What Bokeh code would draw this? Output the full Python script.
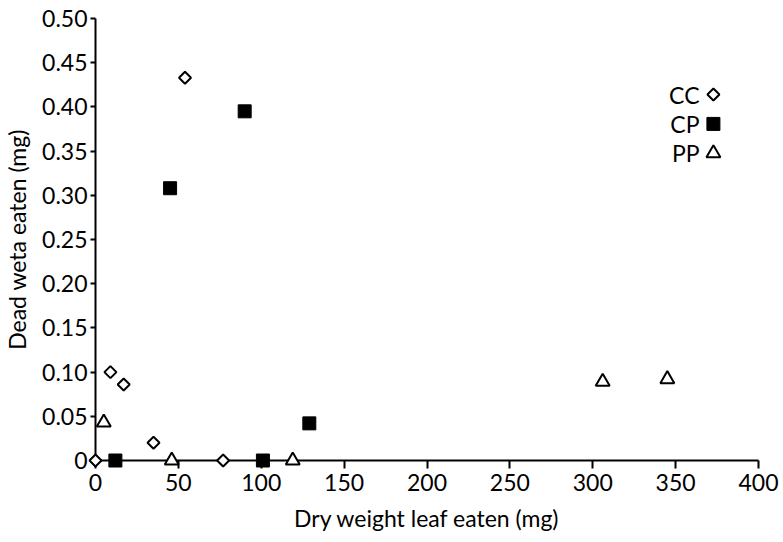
import math
from bokeh.plotting import figure
from bokeh.models import Range1d, FixedTicker, Label
from bokeh.embed import file_html
from bokeh.resources import INLINE

# ---- data ----
cc_x = [0, 9, 17, 35, 54, 77]
cc_y = [0.0, 0.100, 0.086, 0.020, 0.433, 0.0]
cp_x = [12, 45, 90, 101, 129]
cp_y = [0.0, 0.308, 0.395, 0.0, 0.042]
pp_x = [5, 46, 119, 306, 345]
pp_y = [0.043, 0.0, 0.0, 0.089, 0.092]

series_names = ["CC", "CP", "PP"]
x_ticks = [0, 50, 100, 150, 200, 250, 300, 350, 400]
y_ticks = [0.0, 0.05, 0.10, 0.15, 0.20, 0.25, 0.30, 0.35, 0.40, 0.45, 0.50]
y_tick_labels = ["0", "0.05", "0.10", "0.15", "0.20", "0.25", "0.30",
                 "0.35", "0.40", "0.45", "0.50"]
x_title = "Dry weight leaf eaten (mg)"
y_title = "Dead weta eaten (mg)"

FONT = "Lato"
FS = "23px"

p = figure(width=783, height=542, title=None,
           x_range=Range1d(0, 400), y_range=Range1d(0, 0.5),
           output_backend="svg", toolbar_location=None,
           min_border_left=94, min_border_right=25,
           min_border_top=18, min_border_bottom=82)

p.grid.visible = False
p.outline_line_color = None
p.xaxis.ticker = FixedTicker(ticks=x_ticks)
p.yaxis.ticker = FixedTicker(ticks=y_ticks)
p.yaxis.major_label_overrides = {t: s for t, s in zip(y_ticks, y_tick_labels)}
p.xaxis.axis_label = x_title
p.yaxis.axis_label = y_title

for ax in (p.xaxis[0], p.yaxis[0]):
    ax.axis_line_color = "black"
    ax.axis_line_width = 2
    ax.major_tick_line_color = "black"
    ax.major_tick_line_width = 2
    ax.major_tick_in = 0
    ax.minor_tick_line_color = None
    ax.major_label_text_font = FONT
    ax.major_label_text_font_size = FS
    ax.major_label_text_color = "black"
    ax.axis_label_text_font = FONT
    ax.axis_label_text_font_size = FS
    ax.axis_label_text_font_style = "normal"
    ax.axis_label_text_color = "black"

p.xaxis.major_tick_out = 8
p.yaxis.major_tick_out = 5
p.xaxis.major_label_standoff = 5
p.yaxis.major_label_standoff = 3
p.xaxis.axis_label_standoff = 10
p.yaxis.axis_label_standoff = 8

# markers drawn on the overlay level so those sitting on the axes are not clipped
cc_style = dict(marker="square", angle=math.pi / 4, size=8.5,
                fill_color="white", line_color="black", line_width=2)
cp_style = dict(marker="square", size=13,
                fill_color="black", line_color="black", line_width=1)
pp_style = dict(marker="triangle", size=14,
                fill_color="white", line_color="black", line_width=2)

p.scatter(cc_x, cc_y, level="overlay", **cc_style)
p.scatter(cp_x, cp_y, level="overlay", **cp_style)
p.scatter(pp_x, pp_y, level="overlay", **pp_style)

# ---- legend: name on the left, swatch on the right (frame-relative layout) ----
p.extra_x_ranges = {"legend": Range1d(0, 1)}
p.extra_y_ranges = {"legend": Range1d(0, 1)}
leg_swatch_x = 0.932
leg_top = 0.828
leg_step = 0.0665
leg_text_x = 604          # px from frame left (right edge of names)
leg_text_top = 366        # px from frame bottom
leg_text_step = 29

for i, (name, style) in enumerate(zip(series_names, (cc_style, cp_style, pp_style))):
    p.scatter([leg_swatch_x], [leg_top - i * leg_step],
              x_range_name="legend", y_range_name="legend", level="overlay", **style)
    p.add_layout(Label(x=leg_text_x, y=leg_text_top - leg_text_step * i,
                       x_units="screen", y_units="screen",
                       text=name, text_align="right", text_baseline="middle",
                       text_font=FONT, text_font_size=FS, text_color="black"))

open("out.html", "w").write(file_html(p, INLINE))
